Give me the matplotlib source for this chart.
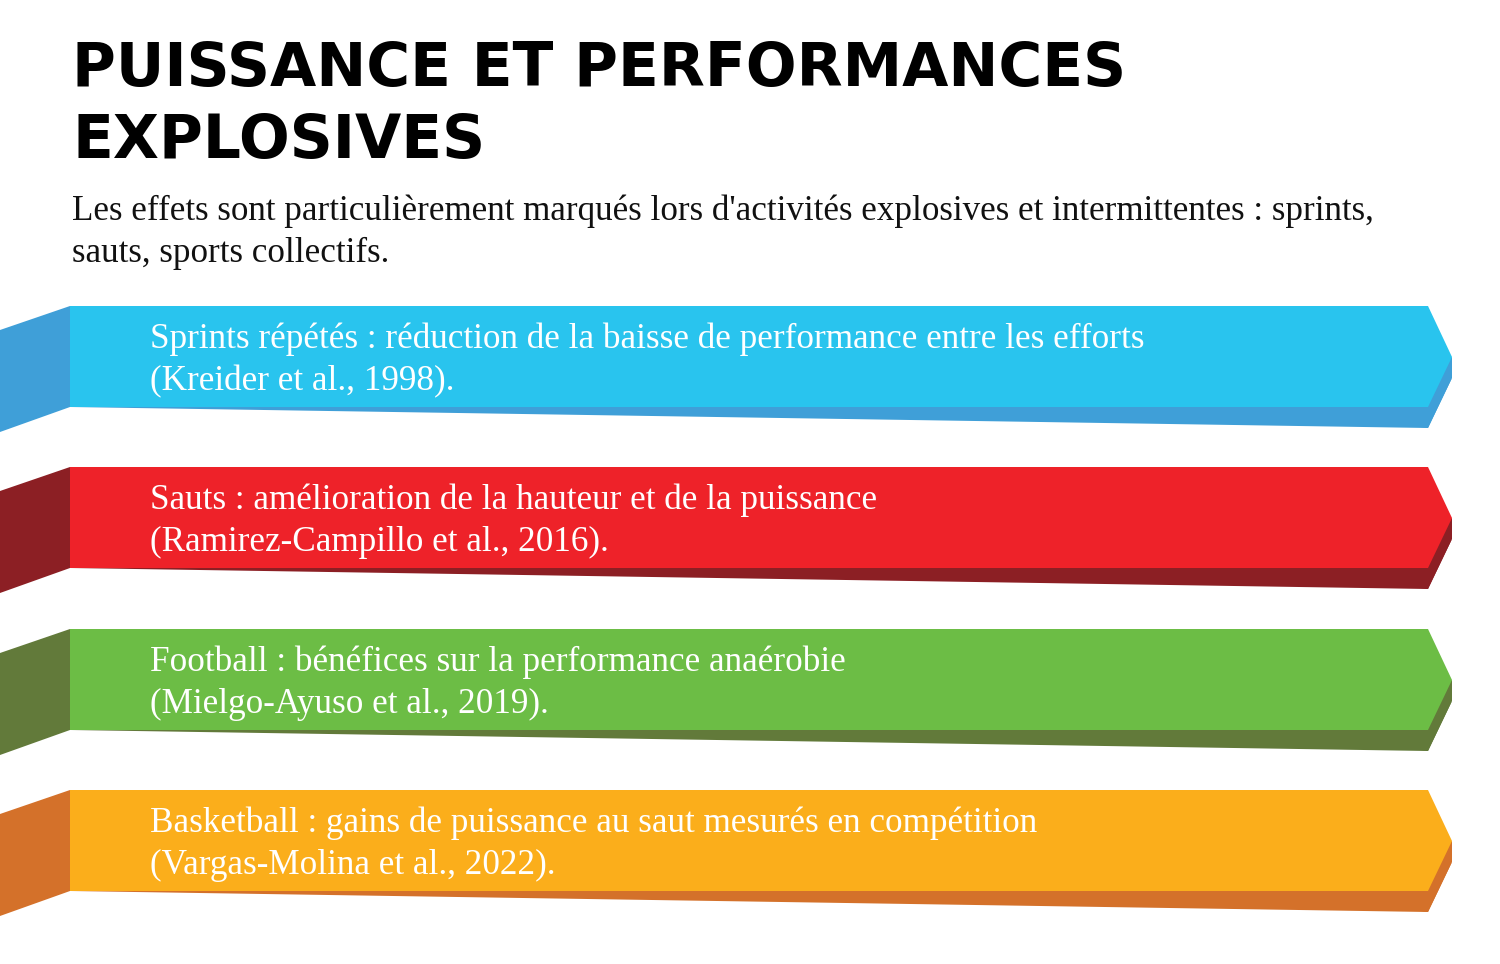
import matplotlib.pyplot as plt
from matplotlib.patches import Polygon

titre = ["PUISSANCE ET PERFORMANCES", "EXPLOSIVES"]
sous_titre = ["Les effets sont particulièrement marqués lors d'activités explosives et intermittentes : sprints,",
              "sauts, sports collectifs."]
lignes1 = ["Sprints répétés : réduction de la baisse de performance entre les efforts",
           "Sauts : amélioration de la hauteur et de la puissance",
           "Football : bénéfices sur la performance anaérobie",
           "Basketball : gains de puissance au saut mesurés en compétition"]
lignes2 = ["(Kreider et al., 1998).",
           "(Ramirez-Campillo et al., 2016).",
           "(Mielgo-Ayuso et al., 2019).",
           "(Vargas-Molina et al., 2022)."]
couleurs = ["#29C4EE", "#EE2229", "#6CBD45", "#FBAE1B"]
ombres = ["#3F9FD8", "#8C1F24", "#627A3A", "#D4712A"]
haut = [306, 467, 629, 790]

fig = plt.figure(figsize=(15, 9.64), dpi=100)
ax = fig.add_axes([0, 0, 1, 1])
ax.set_xlim(0, 1500)
ax.set_ylim(964, 0)
ax.axis("off")

ax.text(72, 86, titre[0], fontsize=43, fontweight="black", family="DejaVu Sans", color="black")
ax.text(72, 158, titre[1], fontsize=43, fontweight="black", family="DejaVu Sans", color="black")
ax.text(72, 220, sous_titre[0], fontsize=25.2, family="Liberation Serif", color="#111111")
ax.text(72, 262, sous_titre[1], fontsize=25.2, family="Liberation Serif", color="#111111")

for i in range(4):
    y = haut[i]
    ax.add_patch(Polygon([(0, y + 24), (70, y), (70, y + 101), (0, y + 126)], color=ombres[i], lw=0))
    ax.add_patch(Polygon([(70, y + 101), (1428, y + 101), (1452, y + 72), (1428, y + 122), (70, y + 101)],
                         color=ombres[i], lw=0))
    ax.add_patch(Polygon([(1380, y + 90), (1452, y + 51), (1452, y + 72), (1428, y + 122), (1380, y + 115)],
                         color=ombres[i], lw=0))
    ax.add_patch(Polygon([(70, y), (1428, y), (1452, y + 51), (1428, y + 101), (70, y + 101)],
                         color=couleurs[i], lw=0))
    ax.text(150, y + 42, lignes1[i], fontsize=25.3, family="Liberation Serif", color="white")
    ax.text(150, y + 84, lignes2[i], fontsize=25.3, family="Liberation Serif", color="white")

fig.savefig("out.png", dpi=100)
